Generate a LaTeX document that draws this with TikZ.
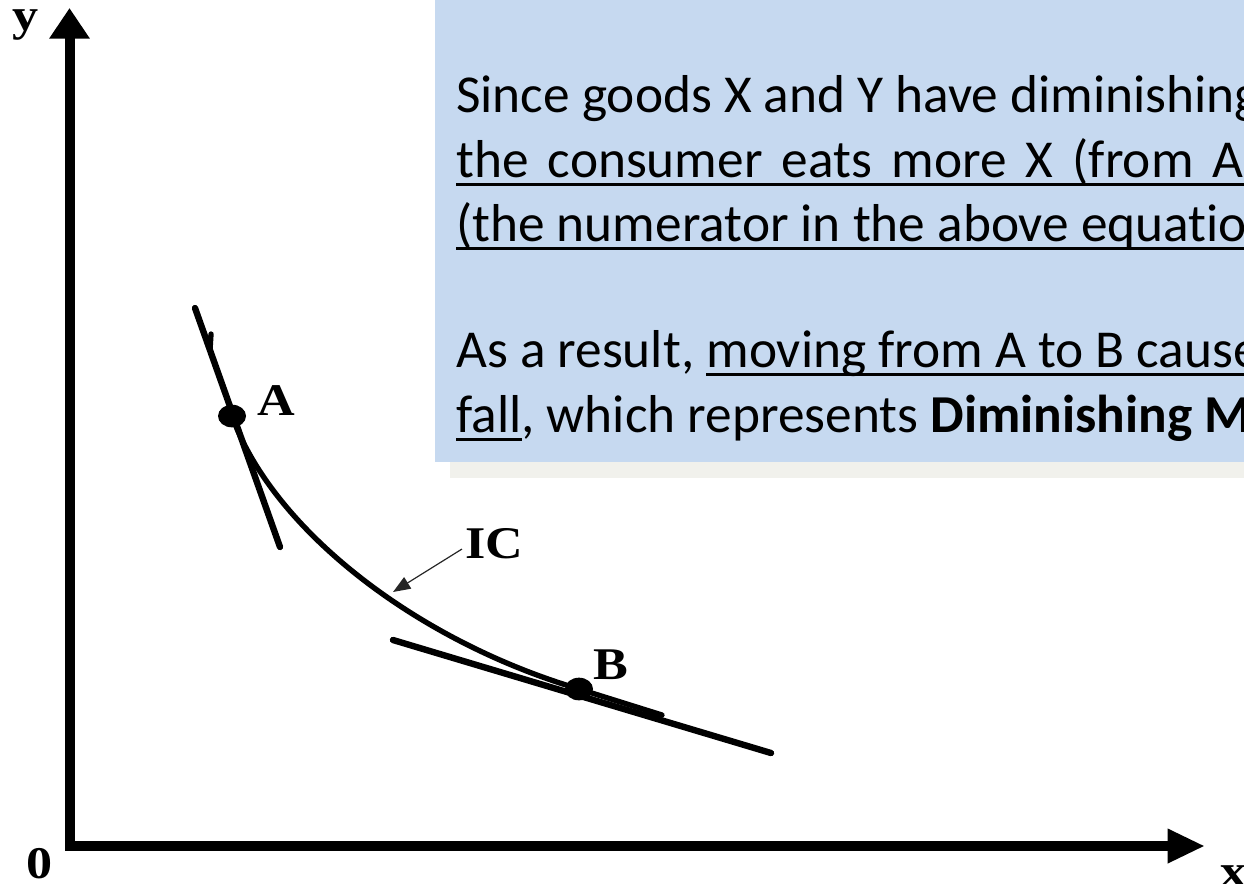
\documentclass[tikz,border=0pt]{standalone}
\usepackage{fontspec}
\setmainfont[Ligatures={NoCommon}]{Carlito}
\newfontfamily\tnr{Liberation Serif}
\usetikzlibrary{arrows.meta,shapes.geometric}
\newcommand\myul[1]{\setbox0=\hbox{#1}\rlap{\rule[-0.175em]{\wd0}{0.065em}}\box0}
\definecolor{boxblue}{HTML}{C6D9F0}
\definecolor{shadowgray}{HTML}{F1F1EC}
\tikzset{
  axis/.style={line width=7.5pt, line join=miter, {Triangle[length=23pt,width=29pt]}-{Triangle[length=28pt,width=24pt]}},
  curveline/.style={line width=4pt, line cap=round},
  tanline/.style={line width=4.8pt, line cap=round},
  dot/.style={ellipse, fill=black, minimum width=21pt, minimum height=17pt, inner sep=0pt},
  lbl/.style={font=\tnr\bfseries\fontsize{34}{38}\selectfont, inner sep=0pt, xscale=1.15},
  txt/.style={anchor=base west, inner sep=0pt, font=\fontsize{40}{48}\selectfont},
  icarrow/.style={line width=0.9pt, draw=black!85, -{Triangle[length=13pt,width=10pt]}}
}
\begin{document}
\begin{tikzpicture}[x=0.75pt,y=-0.75pt]
\useasboundingbox (0,0) rectangle (1244,883);
\begin{scope}
\clip (0,0) rectangle (1244,883);
% text box with shadow
\fill[shadowgray] (450,15) rectangle (1260,478);
\fill[boxblue] (435,0) rectangle (1260,462);
\node[txt] (l1) at (456,112) {Since goods X and Y have diminishing};
\node[txt] (l2) at (456,177) {{\spaceskip=0.36em\relax\myul{the consumer eats more X (from A to B)}}};
\node[txt] (l3) at (456,241) {\myul{(the numerator in the above equation)}};
\node[txt] (l4) at (456,367) {As a result, \myul{moving from A to B causes}};
\node[txt] (l5) at (456,432) {\myul{fall}, which represents \textbf{Diminishing M}};
% axes
\draw[axis] (69.5,8) -- (69.5,846) -- (1205,846);
% tangents
\coordinate (ta1) at (195,308);
\coordinate (ta2) at (280,547);
\coordinate (tb1) at (393,640);
\coordinate (tb2) at (771,753);
\draw[tanline] (ta1) -- (ta2);
\draw[tanline] (tb1) -- (tb2);
% points
\node[dot] (A) at (232,416) {};
\node[dot] (B) at (579,689) {};
% indifference curve
\draw[curveline] (211,334) -- (210,350);
\draw[curveline] (A.center) .. controls (272,528) and (414,640) .. (B.center) -- (662,715);
\node[lbl] (Al) at (276,401) {A};
\node[lbl] (Bl) at (611,665) {B};
\node[lbl] (ic) at (494,544) {IC};
\coordinate (icstart) at (462,549);
\coordinate (ictip) at (393,592);
\draw[icarrow] (icstart) -- (ictip);
% axis labels
\node[lbl, anchor=base] (ylab) at (26,30) {y};
\node[lbl, anchor=base] (zero) at (40,878) {0};
\node[lbl, anchor=base] (xlab) at (1234,886) {x};
\end{scope}
\end{tikzpicture}
\end{document}
